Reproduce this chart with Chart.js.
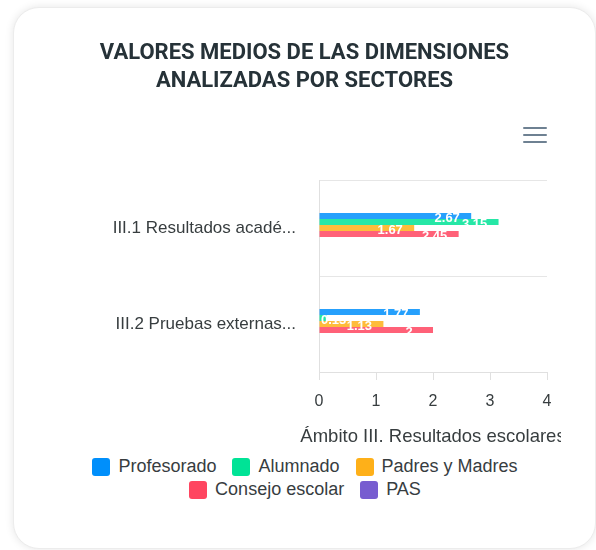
<!DOCTYPE html>
<html>
<head>
<meta charset="utf-8">
<script src="https://cdn.jsdelivr.net/npm/chart.js@4"></script>
<style>
  html, body { margin: 0; padding: 0; background: #fff; width: 596px; height: 550px; overflow: hidden; }
  .tarjeta {
    position: absolute; left: 13px; top: 7px; width: 583px; height: 542px;
    box-sizing: border-box; border: 1px solid #ececec; border-radius: 26px;
    box-shadow: 0 0 8px rgba(0,0,0,0.10); background: #fff;
  }
  .recorte { position: absolute; left: 13px; top: 7px; width: 548px; height: 445px; overflow: hidden; }
  .lienzo { position: relative; width: 583px; height: 445px; }
  .menu { position: absolute; left: 523px; top: 127px; width: 24px; }
  .menu div { height: 2px; background: #6e8192; margin-bottom: 5px; border-radius: 1px; }
  #leyenda {
    position: absolute; left: 80px; top: 455px; width: 450px;
    display: flex; flex-wrap: wrap; justify-content: center; column-gap: 16px;
    font-family: "Liberation Sans", Arial, sans-serif; font-size: 18px; color: #373d3f; line-height: 23px;
  }
  #leyenda span.item { display: inline-flex; align-items: center; }
  #leyenda span.caja { width: 18px; height: 18px; border-radius: 3px; margin-right: 8px; display: inline-block; }
</style>
</head>
<body>
<div class="tarjeta"></div>
<div class="recorte"><div class="lienzo"><canvas id="sectores"></canvas></div></div>
<div class="menu"><div></div><div></div><div></div></div>
<div id="leyenda"></div>
<script>
const categorias = ["III.1 Resultados acadé...", "III.2 Pruebas externas..."];
const sectores = ["Profesorado", "Alumnado", "Padres y Madres", "Consejo escolar", "PAS"];
const profesorado = [2.67, 1.77];
const alumnado = [3.15, 0.13];
const padres = [1.67, 1.13];
const consejo = [2.45, 2];
const pas = [0, 0];
const colores = ["#008FFB", "#00E396", "#FEB019", "#FF4560", "#775DD0"];
const coloresBarra = ["rgba(0,143,251,0.85)", "rgba(0,227,150,0.85)", "rgba(254,176,25,0.85)", "rgba(255,69,96,0.85)", "rgba(119,93,208,0.85)"];
const valoresX = [0, 1, 2, 3, 4];
const tituloX = "Ámbito III. Resultados escolares";

const series = [profesorado, alumnado, padres, consejo, pas];
const fuente = '"Liberation Sans", Arial, sans-serif';

// etiquetas blancas al final de cada barra + titulo del eje x sin comprimir
const etiquetas = {
  id: 'etiquetas',
  afterDatasetsDraw(chart) {
    const ctx = chart.ctx;
    const izq = chart.chartArea.left;
    ctx.save();
    ctx.font = 'bold 13px ' + fuente;
    ctx.fillStyle = '#fff';
    ctx.textAlign = 'center';
    ctx.textBaseline = 'middle';
    chart.data.datasets.forEach((ds, i) => {
      chart.getDatasetMeta(i).data.forEach((barra, j) => {
        const texto = String(ds.data[j]);
        const w = ctx.measureText(texto).width;
        let cx = barra.x - 24;
        if (cx - w / 2 < izq + 2) cx = izq + 2 + w / 2;
        ctx.fillText(texto, cx, barra.y + 2.5);
      });
    });
    ctx.restore();
  },
  afterDraw(chart) {
    const ctx = chart.ctx;
    const area = chart.chartArea;
    const ejeX = chart.scales.x;
    ctx.save();
    ctx.font = '18.5px ' + fuente;
    ctx.fillStyle = '#373d3f';
    ctx.textAlign = 'center';
    ctx.textBaseline = 'middle';
    ctx.fillText(tituloX, (area.left + area.right) / 2, ejeX.bottom - 15);
    ctx.restore();
  }
};

new Chart(document.getElementById("sectores"), {
  type: 'bar',
  data: {
    labels: categorias,
    datasets: sectores.map((s, i) => ({
      label: s,
      data: series[i],
      backgroundColor: coloresBarra[i],
      borderWidth: 0,
      categoryPercentage: 0.3125,
      barPercentage: 1
    }))
  },
  options: {
    indexAxis: 'y',
    responsive: true,
    maintainAspectRatio: false,
    animation: false,
    layout: { padding: { left: 49, right: 49, top: 0, bottom: 0 } },
    plugins: {
      legend: { display: false },
      tooltip: { enabled: false },
      title: {
        display: true,
        text: ["VALORES MEDIOS DE LAS DIMENSIONES", "ANALIZADAS POR SECTORES"],
        color: '#263238',
        font: { family: 'Roboto', size: 22, weight: 'bold', lineHeight: 1.25 },
        padding: { top: 33, bottom: 85 }
      }
    },
    scales: {
      x: {
        min: 0,
        max: 4,
        afterFit: (s) => { s.height = 80; },
        ticks: {
          stepSize: 1,
          color: '#373d3f',
          padding: 12,
          font: { family: fuente, size: 16 },
          callback: (v) => valoresX.includes(v) ? v : ''
        },
        grid: { drawOnChartArea: false, drawTicks: true, tickLength: 8, color: '#e0e0e0' },
        border: { color: '#e0e0e0' }
      },
      y: {
        afterFit: (s) => { s.width = 257; },
        ticks: {
          color: '#373d3f',
          padding: 23,
          font: { family: fuente, size: 17 }
        },
        grid: { offset: true, drawTicks: false, color: '#e6e6e6' },
        border: { color: '#e0e0e0' }
      }
    }
  },
  plugins: [etiquetas]
});

// leyenda en HTML
const leyenda = document.getElementById('leyenda');
sectores.forEach((s, i) => {
  const item = document.createElement('span');
  item.className = 'item';
  item.innerHTML = '<span class="caja" style="background:' + colores[i] + '"></span>' + s;
  leyenda.appendChild(item);
});
</script>
</body>
</html>
